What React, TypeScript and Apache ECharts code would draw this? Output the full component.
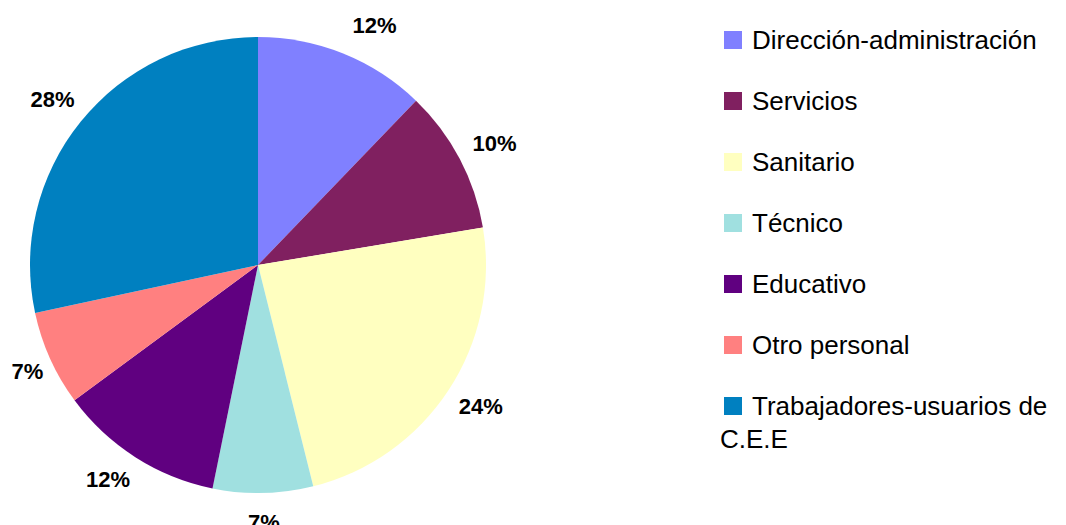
import React, { useEffect, useRef } from "react";
import * as echarts from "echarts";

const categories = [
  "Dirección-administración",
  "Servicios",
  "Sanitario",
  "Técnico",
  "Educativo",
  "Otro personal",
  "Trabajadores-usuarios de C.E.E",
];
const values = [12.2, 10.2, 23.75, 7.1, 11.7, 6.75, 28.4];
const colors = ["#8080FF", "#802060", "#FFFFC0", "#A0E0E0", "#600080", "#FF8080", "#0080C0"];

// small nudges of the percentage labels (style only)
const labelNudges: number[][] = [[18, 5], [3, 2], [2, -3], [0, -6], [-8, -8], [10, -2], [0, 0]];

export default function App() {
  const ref = useRef<HTMLDivElement>(null);
  useEffect(() => {
    document.body.style.margin = "0";
    const chart = echarts.init(ref.current!, null, { renderer: "svg" });
    const data = categories.map((name, i) => ({ name, value: values[i], itemStyle: { color: colors[i] } }));
    const font = "'Liberation Sans', Arial, sans-serif";
    chart.setOption({
      animation: false,
      backgroundColor: "#ffffff",
      legend: {
        orient: "vertical",
        left: 719,
        top: 20,
        icon: "rect",
        itemWidth: 18,
        itemHeight: 18,
        itemGap: 31,
        selectedMode: false,
        data: categories,
        formatter: (n: string) => (n.startsWith("Trabajadores") ? "Trabajadores-usuarios de" : n),
        textStyle: {
          fontFamily: font,
          fontSize: 26,
          lineHeight: 30,
          color: "#000",
          padding: [0, 0, 0, 5],
        },
      },
      graphic: [
        {
          type: "text",
          left: 720,
          top: 426,
          style: { text: "C.E.E", fontFamily: font, fontSize: 26, fill: "#000" },
        },
      ],
      series: [
        {
          type: "pie",
          center: [258, 265],
          radius: [0, 228],
          startAngle: 90,
          clockwise: true,
          silent: true,
          label: { show: false },
          labelLine: { show: false },
          emphasis: { disabled: true },
          data,
        },
        {
          type: "pie",
          center: [258, 265],
          radius: [228, 294],
          startAngle: 90,
          clockwise: true,
          silent: true,
          emphasis: { disabled: true },
          itemStyle: { color: "rgba(0,0,0,0)" },
          label: {
            show: true,
            position: "inside",
            fontFamily: font,
            fontSize: 22,
            fontWeight: "bold",
            color: "#000",
            formatter: (p: any) => Math.round(p.percent) + "%",
          },
          labelLine: { show: false },
          data: categories.map((name, i) => ({
            name,
            value: values[i],
            label: { offset: labelNudges[i] },
          })),
        },
      ],
    });
    return () => chart.dispose();
  }, []);
  return <div ref={ref} style={{ width: 1066, height: 525 }} />;
}
